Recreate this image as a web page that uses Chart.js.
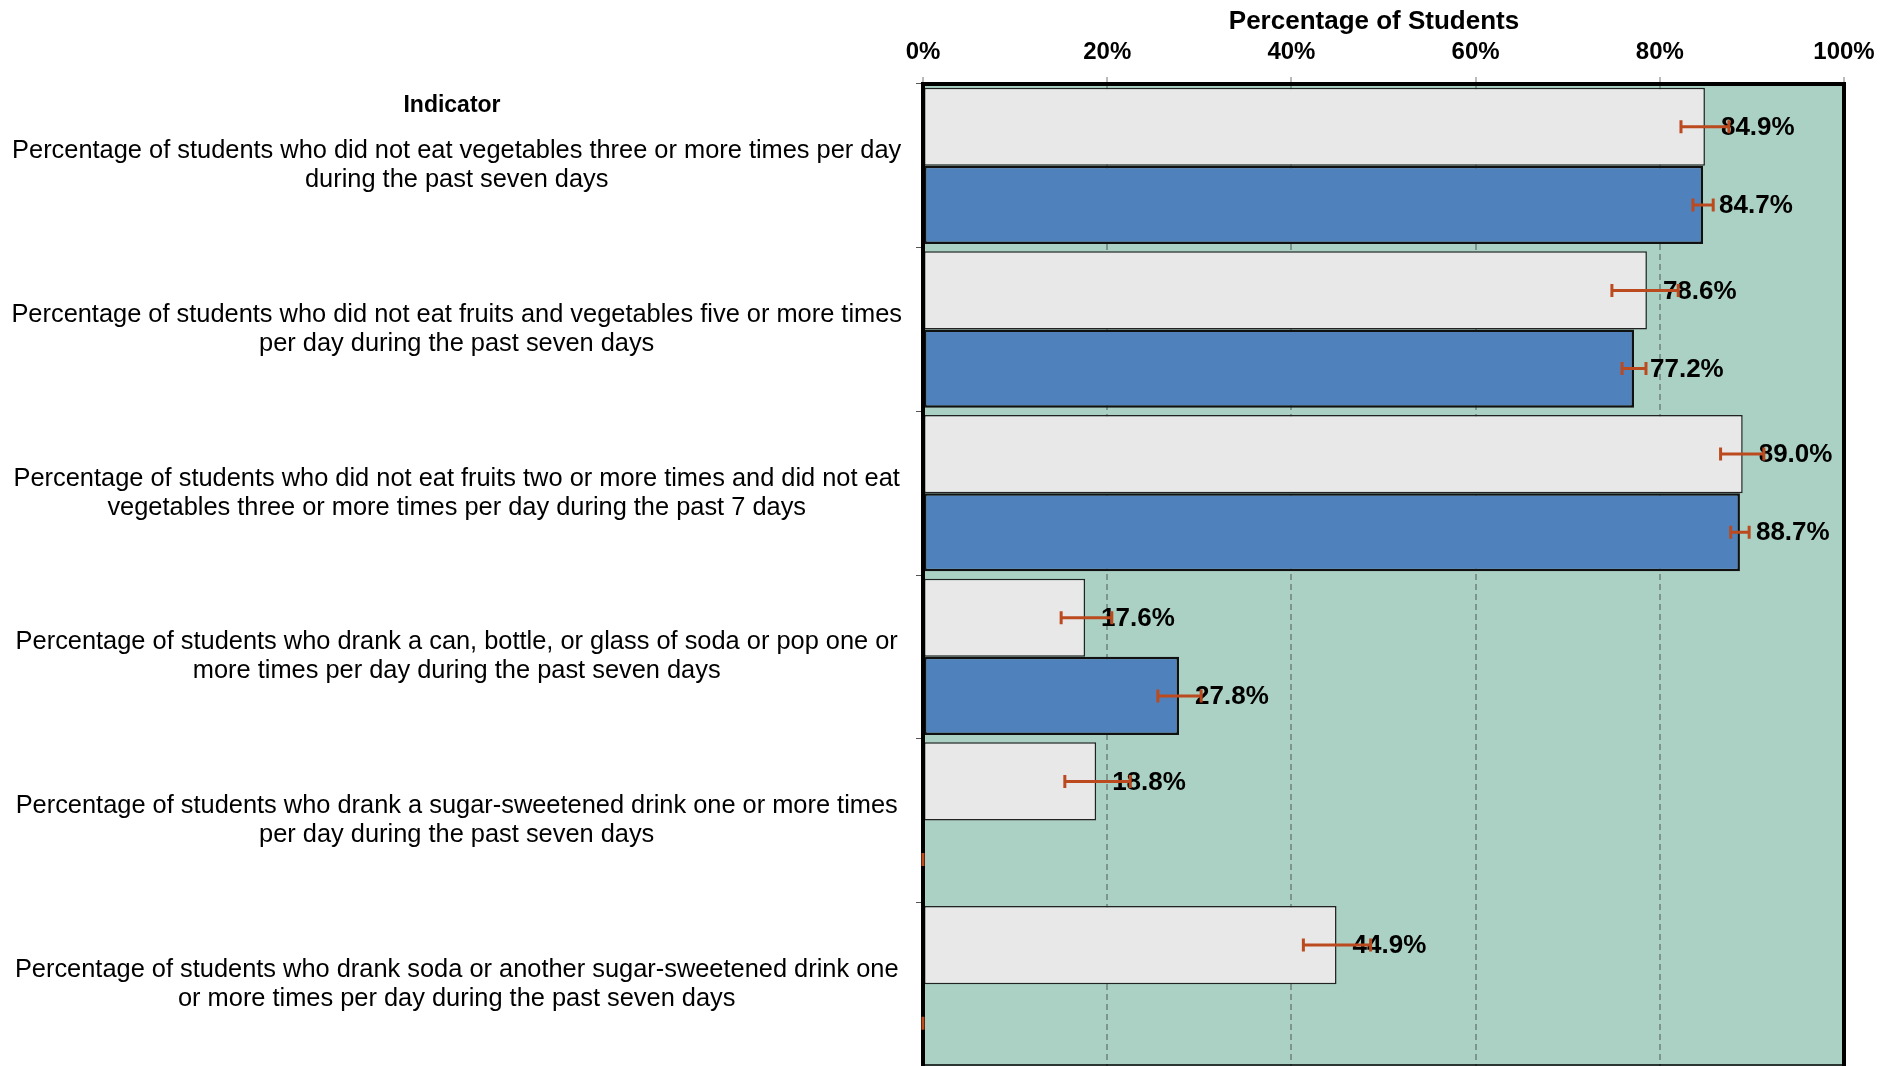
<!DOCTYPE html>
<html>
<head>
<meta charset="utf-8">
<script src="https://cdn.jsdelivr.net/npm/chart.js@4.4.0/dist/chart.umd.min.js"></script>
<style>
  html, body { margin: 0; padding: 0; background: #fff; }
  #wrap { width: 1896px; height: 1066px; position: relative; }
</style>
</head>
<body>
<div id="wrap"><canvas id="myChart"></canvas></div>
<script>
const indicators = [
  ["Percentage of students who did not eat vegetables three or more times per day", "during the past seven days"],
  ["Percentage of students who did not eat fruits and vegetables five or more times", "per day during the past seven days"],
  ["Percentage of students who did not eat fruits two or more times and did not eat", "vegetables three or more times per day during the past 7 days"],
  ["Percentage of students who drank a can, bottle, or glass of soda or pop one or", "more times per day during the past seven days"],
  ["Percentage of students who drank a sugar-sweetened drink one or more times", "per day during the past seven days"],
  ["Percentage of students who drank soda or another sugar-sweetened drink one", "or more times per day during the past seven days"]
];

// grey bars
const greyValues = [84.9, 78.6, 89.0, 17.6, 18.8, 44.9];
const greyLow    = [82.3, 74.8, 86.6, 15.0, 15.4, 41.3];
const greyHigh   = [87.5, 82.0, 91.3, 20.5, 22.5, 48.6];

// blue bars (no value for the last two indicators)
const blueValues = [84.7, 77.2, 88.7, 27.8, null, null];
const blueLow    = [83.6, 75.9, 87.7, 25.5, 0, 0];
const blueHigh   = [85.8, 78.5, 89.7, 30.2, 0, 0];

const xTicks = [0, 20, 40, 60, 80, 100];

const FONT = "'Liberation Sans', Arial, sans-serif";

const areaBg = {
  id: 'areaBg',
  beforeDraw(chart) {
    const {ctx, chartArea: a} = chart;
    ctx.save();
    ctx.fillStyle = '#abd1c4';
    ctx.fillRect(a.left, a.top, a.right - a.left, a.bottom - a.top);
    ctx.restore();
  }
};

// y centre of a bar, also for missing values
function barY(chart, di, i) {
  const el = chart.getDatasetMeta(di).data[i];
  if (el && isFinite(el.y)) return el.y;
  const m0 = chart.getDatasetMeta(0).data;
  const md = chart.getDatasetMeta(di).data;
  return m0[i].y + (md[0].y - m0[0].y);
}

const extras = {
  id: 'extras',
  afterDatasetsDraw(chart) {
    const {ctx, chartArea: a} = chart;
    const xs = chart.scales.x;
    ctx.save();

    // frame
    ctx.strokeStyle = '#000';
    ctx.lineWidth = 4;
    ctx.beginPath();
    ctx.moveTo(a.left, a.bottom); ctx.lineTo(a.left, a.top);
    ctx.lineTo(a.right, a.top); ctx.lineTo(a.right, a.bottom);
    ctx.stroke();
    ctx.lineWidth = 1.5;
    ctx.beginPath();
    ctx.moveTo(a.left, a.bottom - 1); ctx.lineTo(a.right, a.bottom - 1);
    ctx.stroke();

    // value labels
    ctx.font = "bold 26px " + FONT;
    ctx.fillStyle = '#000';
    ctx.textBaseline = 'middle';
    ctx.textAlign = 'left';
    chart.data.datasets.forEach((ds, di) => {
      ds.data.forEach((v, i) => {
        if (v == null) return;
        ctx.fillText(v.toFixed(1) + '%', xs.getPixelForValue(v) + 16, barY(chart, di, i) + 1);
      });
    });

    // error bars
    ctx.strokeStyle = '#bb4a1e';
    ctx.lineWidth = 3;
    chart.data.datasets.forEach((ds, di) => {
      ds.low.forEach((l, i) => {
        const lo = xs.getPixelForValue(l);
        const hi = xs.getPixelForValue(ds.high[i]);
        const y = barY(chart, di, i);
        ctx.beginPath();
        ctx.moveTo(lo, y); ctx.lineTo(hi, y);
        ctx.moveTo(lo, y - 6.5); ctx.lineTo(lo, y + 6.5);
        ctx.moveTo(hi, y - 6.5); ctx.lineTo(hi, y + 6.5);
        ctx.stroke();
      });
    });

    // headers
    ctx.fillStyle = '#000';
    ctx.font = "bold 23px " + FONT;
    ctx.textAlign = 'center';
    ctx.fillText('Indicator', 452, 106);
    ctx.font = "bold 26px " + FONT;
    ctx.fillText('Percentage of Students', 1374, 22);
    ctx.restore();
  }
};

new Chart("myChart", {
  type: "bar",
  data: {
    labels: indicators,
    datasets: [{
      label: "Series 1",
      data: greyValues,
      low: greyLow,
      high: greyHigh,
      backgroundColor: "#e8e8e8",
      borderColor: "#222",
      borderWidth: 1.5,
      borderSkipped: false
    }, {
      label: "Series 2",
      data: blueValues,
      low: blueLow,
      high: blueHigh,
      backgroundColor: "#4f81bd",
      borderColor: "#111",
      borderWidth: 2.5,
      borderSkipped: false
    }]
  },
  options: {
    indexAxis: 'y',
    responsive: true,
    maintainAspectRatio: false,
    animation: false,
    layout: {padding: {top: 0, right: 52, bottom: 0, left: 0}},
    datasets: {bar: {categoryPercentage: 0.955, barPercentage: 1.0}},
    plugins: {
      legend: {display: false},
      tooltip: {enabled: false}
    },
    scales: {
      x: {
        position: 'top',
        min: 0,
        max: 100,
        afterBuildTicks: (s) => { s.ticks = xTicks.map(v => ({value: v})); },
        afterFit: (s) => { s.height = 84; },
        ticks: {
          color: '#000',
          padding: 10,
          maxRotation: 0,
          font: {family: FONT, size: 24, weight: 'bold'},
          callback: (v) => v + '%'
        },
        grid: {
          color: '#7d958c',
          lineWidth: 2,
          tickBorderDash: [],
          tickColor: '#777',
          tickWidth: 1,
          tickLength: 7
        },
        border: {display: false, dash: [6, 4]},
        title: {display: false}
      },
      y: {
        afterFit: (s) => { s.width = 923; s.paddingTop = 0; s.paddingBottom = 0; },
        ticks: {
          color: '#000',
          crossAlign: 'center',
          padding: 14,
          font: {family: FONT, size: 25.4, lineHeight: 1.15}
        },
        grid: {
          offset: true,
          drawOnChartArea: false,
          tickLength: 7,
          tickColor: '#555',
          tickWidth: 1
        },
        border: {display: false}
      }
    }
  },
  plugins: [areaBg, extras]
});
</script>
</body>
</html>
